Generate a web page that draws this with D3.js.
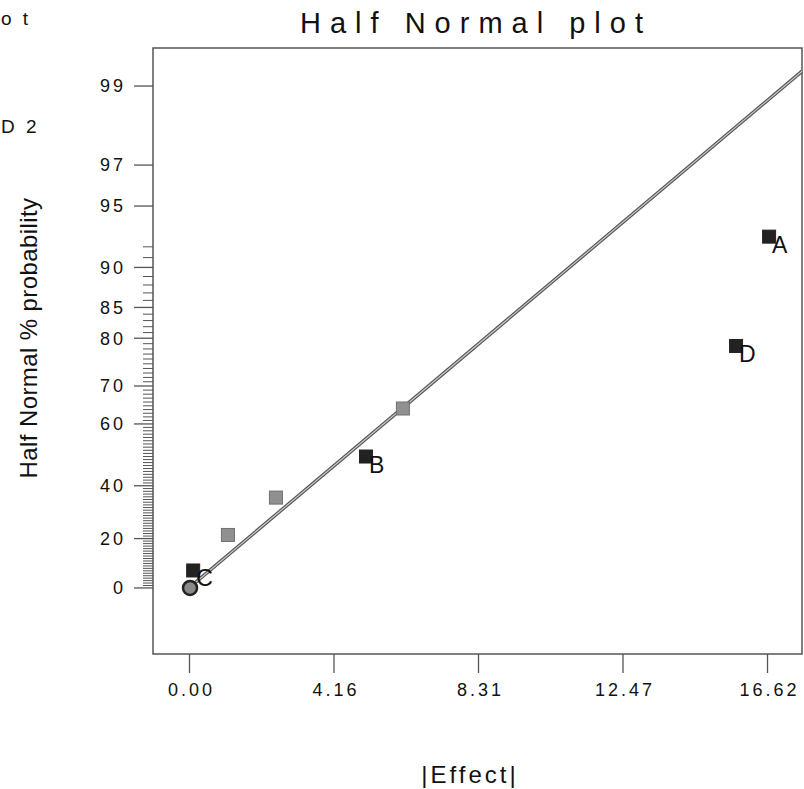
<!DOCTYPE html>
<html>
<head>
<meta charset="utf-8">
<script src="https://cdn.jsdelivr.net/npm/d3@7"></script>
<style>
  body { margin: 0; background: #fff; }
  text { font-family: "Liberation Sans", Arial, sans-serif; fill: #111; }
</style>
</head>
<body>
<svg></svg>
<script>
// effects, sorted by size, with their half normal % probability
var effectNames = ["C", "", "", "B", "", "D", "A"];
var effectSizes = [0.12, 1.12, 2.50, 5.09, 6.15, 15.73, 16.68];
var effectProbs = [7.14, 21.43, 35.71, 50, 64.29, 78.57, 92.86];
var effectKinds = ["model", "error", "error", "model", "error", "model", "model"];

// the circle at the origin
var originSize = [0.03];
var originProb = [0];

// fitted line end points
var fitEffect = [0, 17.63];
var fitProb = [0, 99.2];

var xTicks = [0, 4.155, 8.31, 12.465, 16.62];
var xTickLabels = ["0.00", "4.16", "8.31", "12.47", "16.62"];
var yTicks = [0, 20, 40, 60, 70, 80, 85, 90, 95, 97, 99];
var yMinorTicks = d3.range(1, 93).filter(function(p) { return yTicks.indexOf(p) < 0; });

var svgWidth = 804, svgHeight = 789;
var frameLeft = 153, frameRight = 802, frameTop = 48, frameBottom = 654;

var svg = d3.select("svg")
	.attr("width", svgWidth)
	.attr("height", svgHeight);

// inverse of the standard normal cdf (Acklam)
function invNorm(p) {
	var a = [-3.969683028665376e+01, 2.209460984245205e+02, -2.759285104469687e+02, 1.383577518672690e+02, -3.066479806614716e+01, 2.506628277459239e+00];
	var b = [-5.447609879822406e+01, 1.615858368580409e+02, -1.556989798598866e+02, 6.680131188771972e+01, -1.328068155288572e+01];
	var c = [-7.784894002430293e-03, -3.223964580411365e-01, -2.400758277161838e+00, -2.549732539343734e+00, 4.374664141464968e+00, 2.938163982698783e+00];
	var d = [7.784695709041462e-03, 3.224671290700398e-01, 2.445134137142996e+00, 3.754408661907416e+00];
	var plow = 0.02425, q, r;
	if (p < plow) {
		q = Math.sqrt(-2 * Math.log(p));
		return (((((c[0]*q+c[1])*q+c[2])*q+c[3])*q+c[4])*q+c[5]) / ((((d[0]*q+d[1])*q+d[2])*q+d[3])*q+1);
	}
	if (p <= 1 - plow) {
		q = p - 0.5; r = q * q;
		return (((((a[0]*r+a[1])*r+a[2])*r+a[3])*r+a[4])*r+a[5])*q / (((((b[0]*r+b[1])*r+b[2])*r+b[3])*r+b[4])*r+1);
	}
	q = Math.sqrt(-2 * Math.log(1 - p));
	return -(((((c[0]*q+c[1])*q+c[2])*q+c[3])*q+c[4])*q+c[5]) / ((((d[0]*q+d[1])*q+d[2])*q+d[3])*q+1);
}

// half normal % probability -> z
function halfZ(pct) {
	return invNorm(0.5 + pct / 200);
}

var xScale = d3.scaleLinear()
	.domain([-1.035, 17.626])
	.range([frameLeft, frameRight]);

var zScale = d3.scaleLinear()
	.domain([-0.339, 2.771])
	.range([frameBottom, frameTop]);

function yPos(pct) { return zScale(halfZ(pct)); }

drawTitle();
drawFrame();
drawAxes();
drawFitLine();
drawPoints();

// title, axis names and the clipped text on the left
function drawTitle() {
	svg.append("text")
		.attr("x", 476)
		.attr("y", 33)
		.attr("text-anchor", "middle")
		.style("font-size", "29px")
		.style("letter-spacing", "9px")
		.text("Half Normal plot");

	svg.append("text")
		.attr("x", 470)
		.attr("y", 783)
		.attr("text-anchor", "middle")
		.style("font-size", "24px")
		.style("letter-spacing", "3px")
		.text("|Effect|");

	svg.append("text")
		.attr("transform", "translate(37, 338) rotate(-90)")
		.attr("text-anchor", "middle")
		.style("font-size", "24px")
		.style("letter-spacing", "0.4px")
		.text("Half Normal % probability");

	svg.append("text")
		.attr("x", 1)
		.attr("y", 25)
		.style("font-size", "19px")
		.style("letter-spacing", "3px")
		.text("o t");

	svg.append("text")
		.attr("x", 1)
		.attr("y", 133)
		.style("font-size", "19px")
		.style("letter-spacing", "3px")
		.text("D 2");
}

function drawFrame() {
	svg.append("rect")
		.attr("x", frameLeft)
		.attr("y", frameTop)
		.attr("width", frameRight - frameLeft)
		.attr("height", frameBottom - frameTop)
		.attr("fill", "none")
		.attr("stroke", "#555")
		.attr("stroke-width", 1.5);
}

function drawAxes() {
	// x ticks hang below the frame
	var xAxis = d3.axisBottom(xScale)
		.tickValues(xTicks)
		.tickFormat(function(d, i) { return xTickLabels[i]; })
		.tickSize(19)
		.tickPadding(10);

	var gx = svg.append("g")
		.attr("transform", "translate(0," + frameBottom + ")")
		.call(xAxis);
	gx.select(".domain").remove();
	gx.selectAll("line").attr("stroke", "#555").attr("stroke-width", 1.3);
	gx.selectAll("text")
		.attr("fill", "#111")
		.attr("dx", "2px")
		.style("font-size", "18px")
		.style("letter-spacing", "3px")
		.style("font-family", "'Liberation Sans', Arial, sans-serif");

	// y: major ticks with labels, minor ticks every 1%
	var gy = svg.append("g");
	gy.selectAll("line.minor")
		.data(yMinorTicks)
		.enter()
		.append("line")
		.attr("class", "minor")
		.attr("x1", frameLeft - 10)
		.attr("x2", frameLeft)
		.attr("y1", yPos)
		.attr("y2", yPos)
		.attr("stroke", "#555")
		.attr("stroke-width", 1);

	gy.selectAll("line.major")
		.data(yTicks)
		.enter()
		.append("line")
		.attr("class", "major")
		.attr("x1", frameLeft - 19)
		.attr("x2", frameLeft)
		.attr("y1", yPos)
		.attr("y2", yPos)
		.attr("stroke", "#555")
		.attr("stroke-width", 1.3);

	gy.selectAll("text")
		.data(yTicks)
		.enter()
		.append("text")
		.attr("x", frameLeft - 27)
		.attr("y", yPos)
		.attr("dy", "0.35em")
		.attr("text-anchor", "end")
		.style("font-size", "18px")
		.style("letter-spacing", "3px")
		.text(function(d) { return d; });
}

function drawFitLine() {
	var pts = fitEffect.map(function(e, i) { return [xScale(e), yPos(fitProb[i])]; });
	var line = d3.line();
	svg.append("path")
		.attr("d", line(pts))
		.attr("stroke", "#555")
		.attr("stroke-width", 3.5)
		.attr("fill", "none");
	svg.append("path")
		.attr("d", line(pts))
		.attr("stroke", "#c8c8c8")
		.attr("stroke-width", 1.2)
		.attr("fill", "none");
}

function drawPoints() {
	var size = 13;

	svg.selectAll("circle.origin")
		.data(originSize)
		.enter()
		.append("circle")
		.attr("class", "origin")
		.attr("cx", function(d) { return xScale(d); })
		.attr("cy", function(d, i) { return yPos(originProb[i]); })
		.attr("r", 7)
		.attr("fill", "#8a8a8a")
		.attr("stroke", "#222")
		.attr("stroke-width", 2.5);

	svg.selectAll("rect.effect")
		.data(effectSizes)
		.enter()
		.append("rect")
		.attr("class", "effect")
		.attr("x", function(d) { return xScale(d) - size / 2; })
		.attr("y", function(d, i) { return yPos(effectProbs[i]) - size / 2; })
		.attr("width", size)
		.attr("height", size)
		.attr("fill", function(d, i) { return effectKinds[i] == "model" ? "#222" : "#909090"; })
		.attr("stroke", function(d, i) { return effectKinds[i] == "model" ? "#222" : "#707070"; })
		.attr("stroke-width", 1);

	svg.selectAll("text.effect-label")
		.data(effectSizes)
		.enter()
		.append("text")
		.attr("class", "effect-label")
		.attr("x", function(d) { return xScale(d) + 3; })
		.attr("y", function(d, i) { return yPos(effectProbs[i]) + 16; })
		.style("font-size", "23px")
		.text(function(d, i) { return effectNames[i]; });
}
</script>
</body>
</html>
